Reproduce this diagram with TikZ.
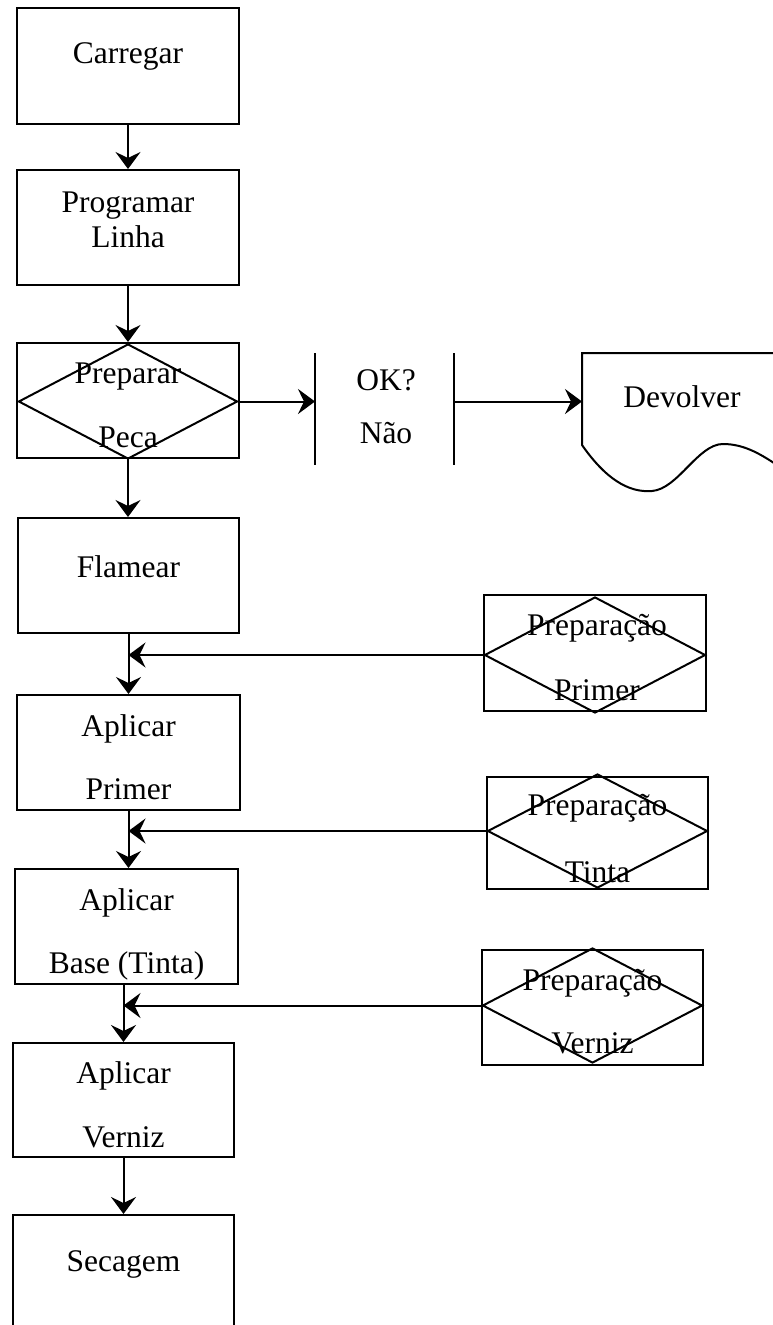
\documentclass[tikz,border=0pt]{standalone}
\usepackage{fontspec}
\setmainfont{Liberation Serif}
\usetikzlibrary{arrows.meta,shapes.geometric}
\begin{document}
\begin{tikzpicture}[x=1pt,y=-1pt,
  line width=2pt,
  box/.style={draw,rectangle,inner sep=0pt},
  dia/.style={draw,diamond,inner sep=0pt},
  lbl/.style={anchor=base,inner sep=0pt,font=\fontsize{31.5}{31.5}\selectfont},
  arr/.style={-{Stealth[length=17pt,width=25pt,inset=6pt]}}]
\useasboundingbox (0,0) rectangle (773,1325);

% main column boxes
\node[box,minimum width=222pt,minimum height=116pt] (carregar) at (128,66) {};
\node[box,minimum width=222pt,minimum height=115pt] (programar) at (128,227.5) {};
\node[box,minimum width=222pt,minimum height=115pt] (preparar) at (128,400.5) {};
\node[dia,minimum width=219pt,minimum height=115pt] (dpreparar) at (128,401.5) {};
\node[box,minimum width=221pt,minimum height=115pt] (flamear) at (128.5,575.5) {};
\node[box,minimum width=223pt,minimum height=115pt] (aplprimer) at (128.5,752.5) {};
\node[box,minimum width=223pt,minimum height=115pt] (aplbase) at (126.5,926.5) {};
\node[box,minimum width=221pt,minimum height=114pt] (aplverniz) at (123.5,1100) {};
\node[box,minimum width=221pt,minimum height=125pt] (secagem) at (123.5,1277.5) {};

% preparation boxes
\node[box,minimum width=222pt,minimum height=116pt] (pprimer) at (595,653) {};
\node[dia,minimum width=221pt,minimum height=116pt] (dprimer) at (595,655) {};
\node[box,minimum width=221pt,minimum height=112pt] (ptinta) at (597.5,833) {};
\node[dia,minimum width=220pt,minimum height=114pt] (dtinta) at (597.5,831) {};
\node[box,minimum width=221pt,minimum height=115pt] (pverniz) at (592.5,1007.5) {};
\node[dia,minimum width=220pt,minimum height=115pt] (dverniz) at (592.5,1005.5) {};

% OK? bars
\coordinate (okLt) at (315,353); \coordinate (okLb) at (315,465);
\coordinate (okRt) at (454,353); \coordinate (okRb) at (454,465);
\draw (okLt) -- (okLb);
\draw (okRt) -- (okRb);
\coordinate (okL) at (315,401.5);
\coordinate (okR) at (454,401.5);

% Devolver document shape
\draw (780,353) -- (582,353) -- (582,445)
  .. controls (605,478) and (628,493) .. (652,491)
  .. controls (678,489) and (698,444) .. (723,444)
  .. controls (745,444) and (762,455) .. (780,467);
\coordinate (devL) at (582,401.5);

% texts
\node[lbl] (tcarregar) at (128,63) {Carregar};
\node[lbl] (tprog1) at (128,212) {Programar};
\node[lbl] (tprog2) at (128,247) {Linha};
\node[lbl] (tprep1) at (128,383) {Preparar};
\node[lbl] (tprep2) at (128,447) {Peca};
\node[lbl] (tok) at (386,390) {OK?};
\node[lbl] (tnao) at (386,443) {Não};
\node[lbl] (tdev) at (682,407) {Devolver};
\node[lbl] (tflam) at (128.5,577) {Flamear};
\node[lbl] (tap1) at (128.5,736) {Aplicar};
\node[lbl] (tap2) at (128.5,799) {Primer};
\node[lbl] (tab1) at (126.5,910) {Aplicar};
\node[lbl] (tab2) at (126.5,973) {Base (Tinta)};
\node[lbl] (tav1) at (123.5,1083) {Aplicar};
\node[lbl] (tav2) at (123.5,1147) {Verniz};
\node[lbl] (tsec) at (123.5,1271) {Secagem};
\node[lbl] (tpp1) at (597,635) {Preparação};
\node[lbl] (tpp2) at (597,700) {Primer};
\node[lbl] (tpt1) at (597.5,815) {Preparação};
\node[lbl] (tpt2) at (597.5,882) {Tinta};
\node[lbl] (tpv1) at (592.5,990) {Preparação};
\node[lbl] (tpv2) at (592.5,1053) {Verniz};

% connectors
\draw[arr] (carregar.south) -- (programar.north);
\draw[arr] (programar.south) -- (preparar.north);
\draw[arr] (dpreparar.east) -- (okL);
\draw[arr] (okR) -- (devL);
\draw[arr] (preparar.south) -- (flamear.north -| preparar.south);
\draw[arr] (flamear.south) -- (flamear.south |- aplprimer.north);
\draw[arr] (aplprimer.south) -- (aplprimer.south |- aplbase.north);
\draw[arr] (aplbase.south -| aplverniz.north) -- (aplverniz.north);
\draw[arr] (aplverniz.south) -- (secagem.north);
\draw[arr] (dprimer.west) -- (dprimer.west -| flamear.south);
\draw[arr] (dtinta.west) -- (dtinta.west -| aplprimer.south);
\draw[arr] (dverniz.west) -- (dverniz.west -| aplverniz.north);
\end{tikzpicture}
\end{document}
